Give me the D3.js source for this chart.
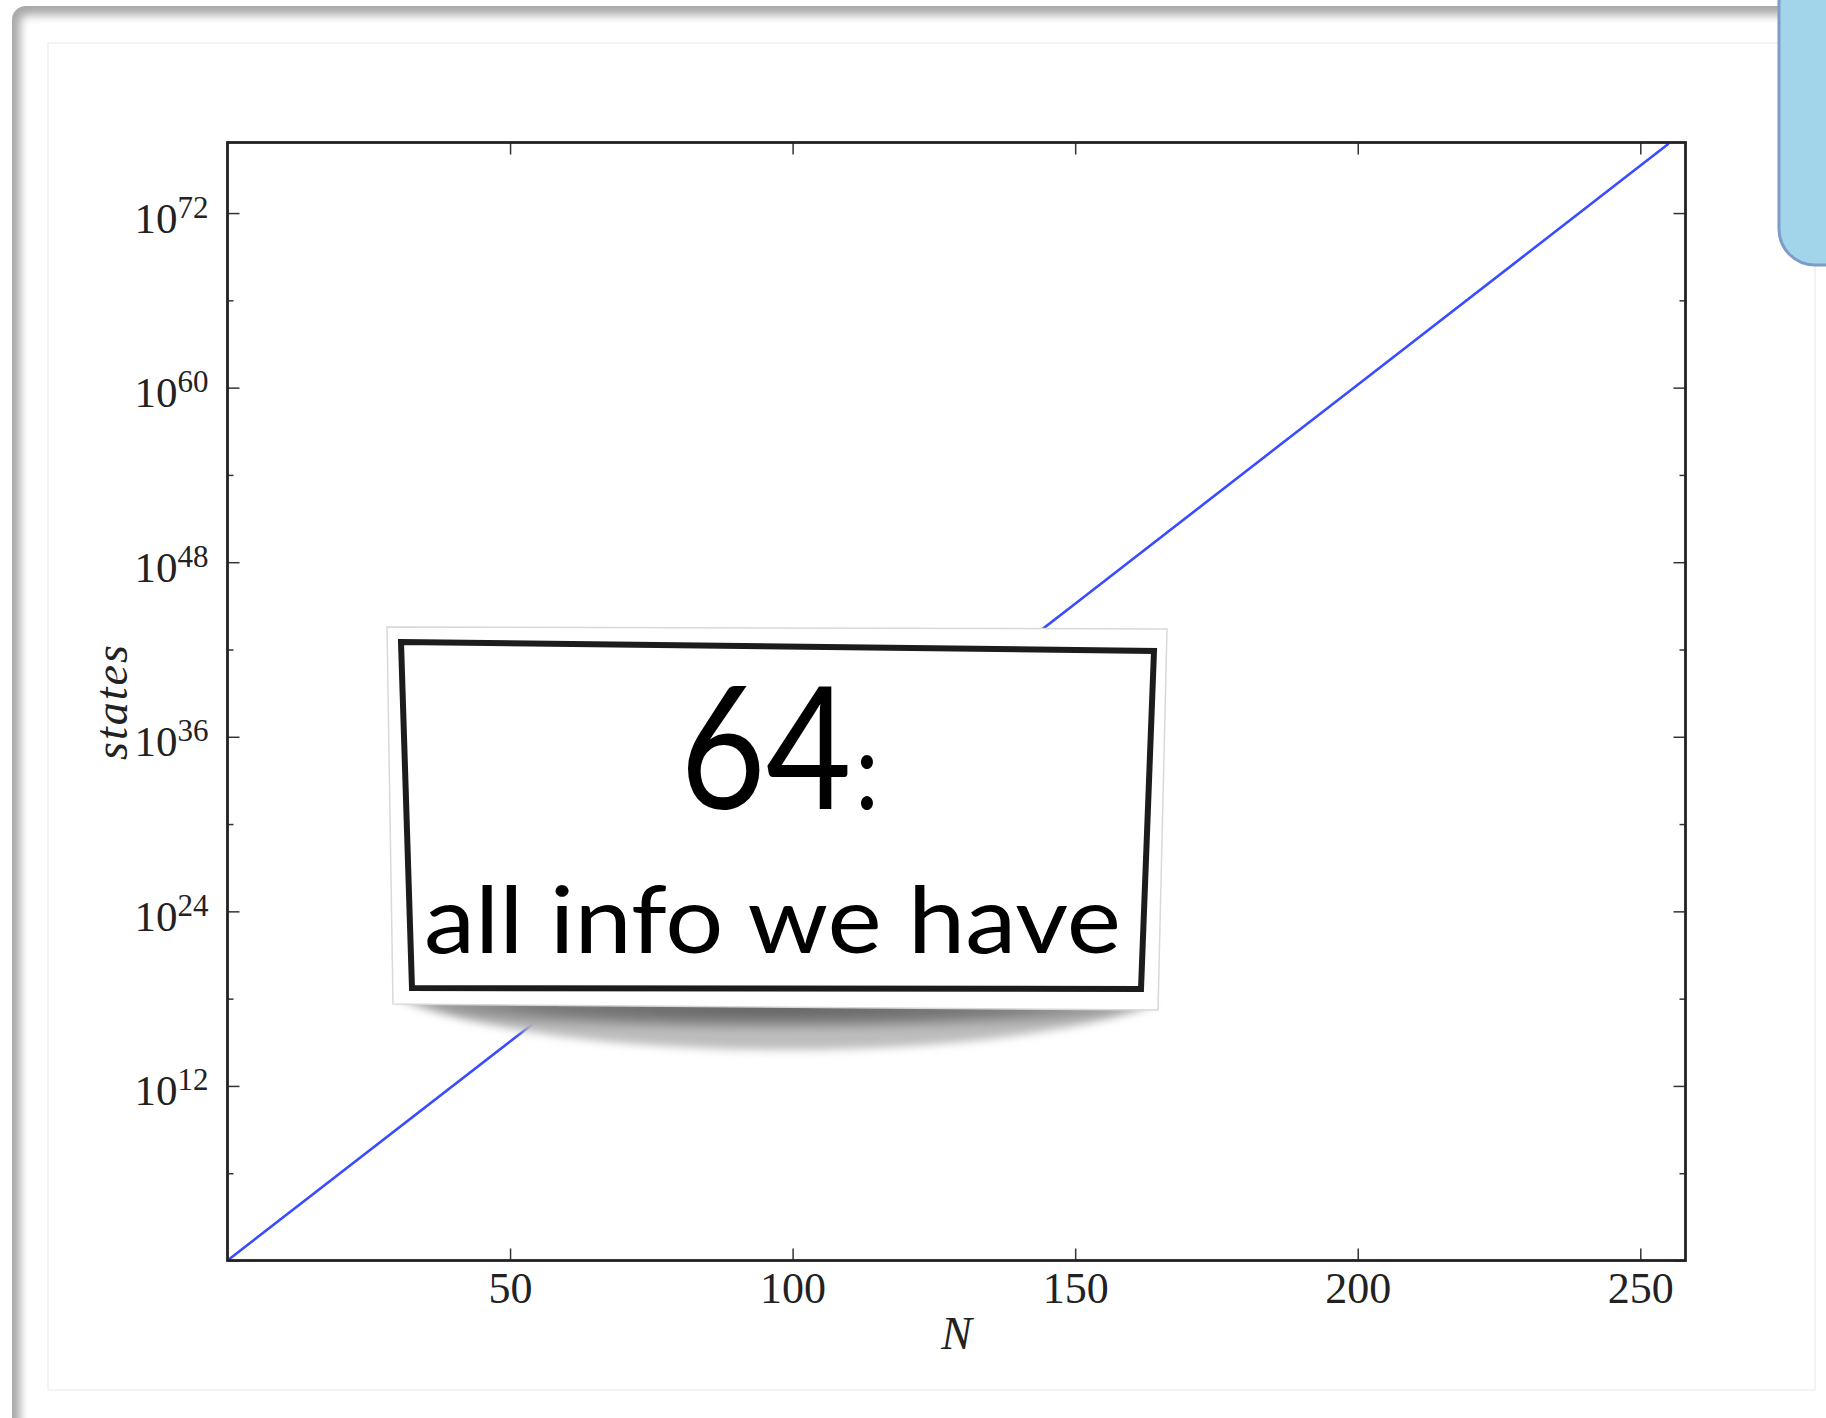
<!DOCTYPE html>
<html>
<head>
<meta charset="utf-8">
<script src="https://cdn.jsdelivr.net/npm/d3@7/dist/d3.min.js"></script>
<style>
  html, body { margin: 0; padding: 0; background: #ffffff; }
  svg { display: block; }
</style>
</head>
<body>
<svg id="slide" width="1826" height="1418"></svg>
<script>
// Number of binary digits N against the count of states 2^N (exponent of 10)
const nValues = [0, 50, 100, 150, 200, 255];
const stateExponents = [0, 15.05, 30.1, 45.15, 60.2, 76.76];

// Axis ticks
const xTickValues = [50, 100, 150, 200, 250];
const yMajorExponents = [0, 12, 24, 36, 48, 60, 72];
const yMinorExponents = [6, 18, 30, 42, 54, 66];

// Callout text
const calloutNumber = "64";
const calloutColon = ":";
const calloutCaption = "all info we have";

const svg = d3.select("#slide");
const defs = svg.append("defs");

// ---- slide card with soft edge shading ----
defs.append("clipPath").attr("id", "cardClip")
  .append("rect").attr("x", 12).attr("y", 6).attr("width", 1900).attr("height", 1500).attr("rx", 14);
defs.append("filter").attr("id", "edgeBlur").attr("x", "-5%").attr("y", "-5%").attr("width", "110%").attr("height", "110%")
  .append("feGaussianBlur").attr("stdDeviation", 5);

const card = svg.append("g").attr("clip-path", "url(#cardClip)");
card.append("rect").attr("x", 12).attr("y", 6).attr("width", 1900).attr("height", 1500).attr("fill", "#a8a8a8");
card.append("rect").attr("x", 20).attr("y", 15).attr("width", 1900).attr("height", 1500).attr("rx", 8)
  .attr("fill", "#ffffff").attr("filter", "url(#edgeBlur)");

// faint inner frame of the picture area
svg.append("rect").attr("x", 48).attr("y", 43).attr("width", 1767).attr("height", 1347)
  .attr("fill", "none").attr("stroke", "#efefef").attr("stroke-width", 1.5);

// ---- chart ----
const plot = { left: 227.5, right: 1685.5, top: 142.5, bottom: 1260.5 };

const x = d3.scaleLinear().domain([0, 258]).range([plot.left, plot.right]);
const y = d3.scaleLog().domain([1, Math.pow(10, 76.85)]).range([plot.bottom, plot.top]);

const serif = "'Liberation Serif', 'Times New Roman', serif";

const series = nValues.map((n, i) => ({ n: n, states: Math.pow(10, stateExponents[i]) }));

const line = d3.line().x(d => x(d.n)).y(d => y(d.states));
svg.append("path").datum(series)
  .attr("d", line)
  .attr("fill", "none")
  .attr("stroke", "#3a4cff")
  .attr("stroke-width", 2.6);

// bottom axis with labels
const xAxisBottom = svg.append("g")
  .attr("transform", `translate(0,${plot.bottom})`)
  .call(d3.axisBottom(x).tickValues(xTickValues).tickSizeInner(-12).tickSizeOuter(0).tickPadding(11));
xAxisBottom.select(".domain").remove();
xAxisBottom.selectAll(".tick line").attr("stroke", "#333").attr("stroke-width", 1.5);
xAxisBottom.selectAll(".tick text")
  .attr("font-family", serif).attr("font-size", 44).attr("fill", "#222");

// top axis, ticks only
const xAxisTop = svg.append("g")
  .attr("transform", `translate(0,${plot.top})`)
  .call(d3.axisTop(x).tickValues(xTickValues).tickSizeInner(-12).tickSizeOuter(0).tickFormat(""));
xAxisTop.select(".domain").remove();
xAxisTop.selectAll(".tick line").attr("stroke", "#333").attr("stroke-width", 1.5);

const yMajor = yMajorExponents.map(e => Math.pow(10, e));
const yMinor = yMinorExponents.map(e => Math.pow(10, e));

// left axis: major ticks with power-of-ten labels
const yAxisLeft = svg.append("g")
  .attr("transform", `translate(${plot.left},0)`)
  .call(d3.axisLeft(y).tickValues(yMajor).tickSizeInner(-12).tickSizeOuter(0).tickPadding(19));
yAxisLeft.select(".domain").remove();
yAxisLeft.selectAll(".tick line").attr("stroke", "#333").attr("stroke-width", 1.5);
yAxisLeft.selectAll(".tick text")
  .attr("font-family", serif).attr("fill", "#222").attr("dy", 19)
  .each(function (d) {
    const t = d3.select(this);
    t.text(null);
    const exp = Math.round(Math.log10(d));
    if (exp === 0) return;
    t.append("tspan").attr("font-size", 43).text("10");
    t.append("tspan").attr("font-size", 31).attr("dy", -15).text(exp);
  });

const yAxisLeftMinor = svg.append("g")
  .attr("transform", `translate(${plot.left},0)`)
  .call(d3.axisLeft(y).tickValues(yMinor).tickSizeInner(-6).tickSizeOuter(0).tickFormat(""));
yAxisLeftMinor.select(".domain").remove();
yAxisLeftMinor.selectAll(".tick line").attr("stroke", "#333").attr("stroke-width", 1.5);

// right axis, ticks only
const yAxisRight = svg.append("g")
  .attr("transform", `translate(${plot.right},0)`)
  .call(d3.axisRight(y).tickValues(yMajor).tickSizeInner(-12).tickSizeOuter(0).tickFormat(""));
yAxisRight.select(".domain").remove();
yAxisRight.selectAll(".tick line").attr("stroke", "#333").attr("stroke-width", 1.5);

const yAxisRightMinor = svg.append("g")
  .attr("transform", `translate(${plot.right},0)`)
  .call(d3.axisRight(y).tickValues(yMinor).tickSizeInner(-6).tickSizeOuter(0).tickFormat(""));
yAxisRightMinor.select(".domain").remove();
yAxisRightMinor.selectAll(".tick line").attr("stroke", "#333").attr("stroke-width", 1.5);

// frame
svg.append("rect")
  .attr("x", plot.left).attr("y", plot.top)
  .attr("width", plot.right - plot.left).attr("height", plot.bottom - plot.top)
  .attr("fill", "none").attr("stroke", "#222").attr("stroke-width", 2.8);

// axis titles
svg.append("text")
  .attr("x", (plot.left + plot.right) / 2).attr("y", 1349)
  .attr("text-anchor", "middle")
  .attr("font-family", serif).attr("font-style", "italic").attr("font-size", 46).attr("fill", "#222")
  .text("N");

svg.append("text")
  .attr("transform", `translate(127,${(plot.top + plot.bottom) / 2}) rotate(-90)`)
  .attr("text-anchor", "middle")
  .attr("font-family", serif).attr("font-style", "italic").attr("font-size", 46)
  .attr("letter-spacing", 2).attr("fill", "#222")
  .text("states");

// ---- callout note ----
defs.append("filter").attr("id", "shadowBlur").attr("x", "-10%").attr("y", "-50%").attr("width", "120%").attr("height", "200%")
  .append("feGaussianBlur").attr("stdDeviation", 4);
const shadeGrad = defs.append("radialGradient").attr("id", "shadeGrad")
  .attr("cx", "50%").attr("cy", "10%").attr("r", "55%");
shadeGrad.append("stop").attr("offset", "0%").attr("stop-color", "#5e5e5e");
shadeGrad.append("stop").attr("offset", "60%").attr("stop-color", "#7a7a7a");
shadeGrad.append("stop").attr("offset", "100%").attr("stop-color", "#bdbdbd");

svg.append("path")
  .attr("d", "M 396,998 C 560,1066 990,1066 1157,1004 Z")
  .attr("fill", "url(#shadeGrad)")
  .attr("filter", "url(#shadowBlur)");

svg.append("path")
  .attr("d", "M 387,627 L 1167,629 L 1158,1010 L 393,1004 Z")
  .attr("fill", "#ffffff").attr("stroke", "#d8d8d8").attr("stroke-width", 1.5);

svg.append("path")
  .attr("d", "M 401,642 L 1154,651 L 1141,989 L 412,988 Z")
  .attr("fill", "#ffffff").attr("stroke", "#1c1c1c").attr("stroke-width", 6)
  .attr("stroke-linejoin", "miter");

const sans = "Lato, 'Open Sans', sans-serif";
// large number with its colon, narrowed slightly as one text run
const heading = svg.append("text")
  .attr("transform", "translate(680,809) scale(0.87,1)")
  .attr("font-family", sans).attr("fill", "#000");
heading.append("tspan").attr("font-size", 170).text(calloutNumber);
heading.append("tspan").attr("font-size", 110).attr("dx", 4).text(calloutColon);

svg.append("text")
  .attr("x", 424).attr("y", 953)
  .attr("font-family", sans).attr("font-size", 93).attr("fill", "#000")
  .attr("textLength", 697).attr("lengthAdjust", "spacingAndGlyphs")
  .text(calloutCaption);

// ---- corner tab at the top right ----
svg.append("rect")
  .attr("x", 1779).attr("y", -40).attr("width", 120).attr("height", 305).attr("rx", 36)
  .attr("fill", "#a3d5ea").attr("stroke", "#7d9cc8").attr("stroke-width", 3);
</script>
</body>
</html>
